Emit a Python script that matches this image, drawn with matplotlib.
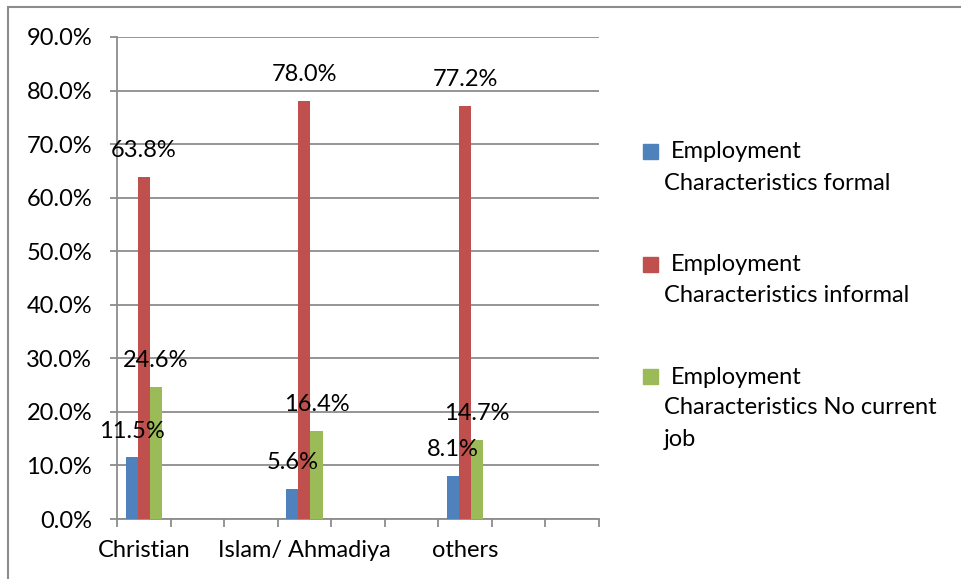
import matplotlib
matplotlib.use("Agg")
import matplotlib.pyplot as plt
from matplotlib.patches import Rectangle
import numpy as np

plt.rcParams['font.family'] = ['Lato', 'DejaVu Sans']

categories = ["Christian", "Islam/ Ahmadiya", "others"]
formal = [11.5, 5.6, 8.1]
informal = [63.8, 78.0, 77.2]
no_job = [24.6, 16.4, 14.7]
series_names = ["Employment\nCharacteristics formal",
                "Employment\nCharacteristics informal",
                "Employment\nCharacteristics No current\njob"]
colors = ["#4F81BD", "#C0504D", "#9BBB59"]
yticks = [0, 10, 20, 30, 40, 50, 60, 70, 80, 90]

W, H = 961, 579
FS = 17
fig = plt.figure(figsize=(W / 100, H / 100), dpi=100)
ax = fig.add_axes([117 / W, 1 - 519 / H, (599 - 117) / W, (519 - 37) / H])

grid_col = "#8c8c8c"
# categories sit in every third slot of a 9-slot axis, like the original sheet
x = np.arange(len(categories)) * 3 + 0.5
bw = 0.225
for i, (vals, c) in enumerate(zip([formal, informal, no_job], colors)):
    xs = x + (i - 1) * bw
    ax.bar(xs, vals, width=bw, color=c, zorder=3)
    for xx, v in zip(xs, vals):
        ax.annotate(f"{v:.1f}%", (xx, v), xytext=(0, 19), textcoords="offset points",
                    ha="center", va="center", fontsize=FS, zorder=4)

ax.set_xlim(0, 9)
ax.set_ylim(0, 90)
ax.set_yticks(yticks)
ax.set_yticklabels([f"{t:.1f}%" for t in yticks], fontsize=FS)
ax.yaxis.grid(True, color=grid_col, linewidth=1.3, zorder=0)
ax.tick_params(axis="y", length=5, width=1.3, color=grid_col, pad=13)

ax.set_xticks(np.arange(0, 10))
ax.set_xticklabels([])
ax.tick_params(axis="x", which="major", length=6, width=1.3, color=grid_col)
ax.set_xticks(x, minor=True)
ax.set_xticklabels(categories, minor=True, fontsize=FS)
ax.tick_params(axis="x", which="minor", length=0, pad=15)

for s in ["top", "right"]:
    ax.spines[s].set_visible(False)
for s in ["left", "bottom"]:
    ax.spines[s].set_color(grid_col)
    ax.spines[s].set_linewidth(1.3)

# legend drawn by hand so the swatch sits on the first line
for k, (name, c) in enumerate(zip(series_names, colors)):
    top = 144 + k * 112.5
    fig.add_artist(Rectangle((643 / W, 1 - (top + 15) / H), 15 / W, 15 / H,
                             transform=fig.transFigure, color=c))
    for j, line in enumerate(name.split("\n")):
        xpos = 671 if j == 0 else 664
        fig.text(xpos / W, 1 - (top + 8 + j * 31) / H, line,
                 ha="left", va="center", fontsize=FS)

# outer chart border
fig.add_artist(Rectangle((8 / W, -0.1), 1.2, 1 - 7 / H + 0.1, transform=fig.transFigure,
                         fill=False, edgecolor="#8c8c8c", linewidth=1.5))

fig.savefig("out.png", dpi=100)
